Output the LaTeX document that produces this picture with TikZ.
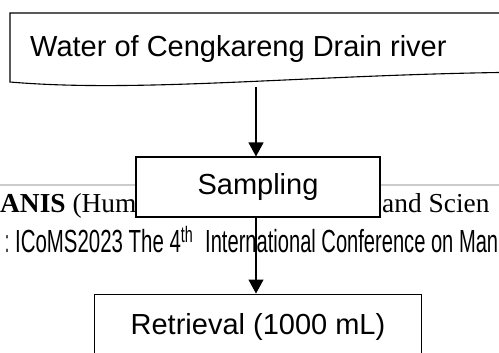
\documentclass[tikz,border=0pt]{standalone}
\usepackage{fontspec}
\setmainfont{Liberation Serif}
\setsansfont{Liberation Sans}
\newfontfamily\narrowfont{Liberation Sans}
\usepackage{graphicx}
\usetikzlibrary{positioning,arrows.meta}
\tikzset{
  docline/.style={draw=black, line width=1.1pt, fill=white},
  procbox/.style={rectangle, draw=black, line width=1.1pt, fill=white, inner sep=0pt, text centered, font=\sffamily\fontsize{29}{34}\selectfont},
  flow/.style={-{Triangle[width=15pt,length=14pt]}, line width=1.2pt},
  pagehead/.style={anchor=base west, inner sep=0pt},
  serifhead/.style={pagehead, font=\rmfamily\fontsize{27.4}{32}\selectfont},
  narrowhead/.style={pagehead, font=\narrowfont\fontsize{32}{36}\selectfont},
  node distance=76pt
}

\begin{document}
\begin{tikzpicture}[x=1pt, y=-1pt]
	\clip (0,0) rectangle (499,353);
	% page header behind the chart
	\draw[black!20, line width=1.5pt] (0,185) -- (499,185);
	\node[serifhead] (headA) at (0,213) {\textbf{ANIS} (Hum};
	\node[serifhead] (headE) at (382,213) {and Scien};
	\node[narrowhead] (headB) at (5,252) {\resizebox{4pt}{\height}{:}};
	\node[narrowhead] (headC) at (15,252) {\resizebox{178pt}{\height}{ICoMS2023 The 4\textsuperscript{th}}};
	\node[narrowhead] (headD) at (205,252) {\resizebox{293pt}{\height}{International Conference on Man}};

	% source document
	\draw[docline] (10,82) -- (10,13) -- (560,13) -- (560,72) .. controls (330,72) and (150,94) .. (10,82) -- cycle;
	\node[pagehead, font=\sffamily\fontsize{29}{34}\selectfont] (src) at (30,57) {Water of Cengkareng Drain river};
	\coordinate (srcfoot) at (256,87);

	\node[procbox, minimum width=244pt, minimum height=60pt] (samp) at (258,187) {Sampling};
	\node[procbox, minimum width=327pt, minimum height=66pt, below=of samp] (retr) {Retrieval (1000 mL)};
	%
	\draw[flow] (srcfoot) -- (srcfoot |- samp.north);
	\draw[flow] (samp.south -| srcfoot) -- (retr.north -| srcfoot);
\end{tikzpicture}
\end{document}
